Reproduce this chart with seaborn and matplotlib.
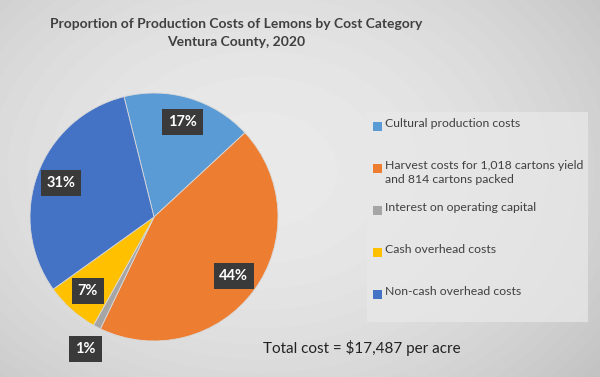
import numpy as np
import matplotlib
matplotlib.use("Agg")
import matplotlib.pyplot as plt
import matplotlib.patches as mpatches
import seaborn as sns

sns.set_theme(style="white")
plt.rcParams['font.family'] = ['Lato', 'DejaVu Sans']

# data
categories = ['Cultural production costs',
              'Harvest costs for 1,018 cartons yield\nand 814 cartons packed',
              'Interest on operating capital',
              'Cash overhead costs',
              'Non-cash overhead costs']
shares = [17, 44, 1, 7, 31]
colors = ['#5B9BD5', '#ED7D31', '#A5A5A5', '#FFC000', '#4472C4']
title = 'Proportion of Production Costs of Lemons by Cost Category\nVentura County, 2020'
total_note = 'Total cost = $17,487 per acre'

W, H = 600, 377
fig = plt.figure(figsize=(6, 3.77), dpi=100)

# gray radial background
bg = fig.add_axes([0, 0, 1, 1], zorder=-10)
yy, xx = np.mgrid[0:H, 0:W]
d2 = ((xx - 260) / 400.0) ** 2 + ((yy - 170) / 300.0) ** 2
shade = np.clip(0.915 - 0.13 * d2, 0, 1)
bg.imshow(shade, cmap='gray', vmin=0, vmax=1, aspect='auto')
bg.axis('off')

# pie
ax = fig.add_axes([-1 / W, 5 / H, 310 / W, 310 / H])
wedges, texts, autotexts = ax.pie(
    shares, colors=colors, startangle=104, counterclock=False,
    autopct='%d%%', pctdistance=0.8,
    wedgeprops=dict(linewidth=0.6, edgecolor='#d9d9d9'),
    textprops=dict(color='white', fontweight='bold', fontsize=10.5))
ax.set_xlim(-1.25, 1.25)
ax.set_ylim(-1.25, 1.25)
ax.set_aspect('equal')
ax.axis('off')
for t in autotexts:
    t.set_bbox(dict(boxstyle='square,pad=0.4', fc='#3a3a3a', ec='none'))
# the small slice label sits outside the pie
x, y = autotexts[2].get_position()
autotexts[2].set_position((x * 1.5, y * 1.5))

# legend panel, Excel style: one 42 px slot per entry
fig.patches.append(mpatches.Rectangle((367 / W, 1 - 322 / H), 221 / W, 210 / H,
                                      transform=fig.transFigure, fc='#e8e8e8',
                                      ec='none', alpha=0.75, zorder=1))
for i, (lab, col) in enumerate(zip(categories, colors)):
    yc = 126 + 42 * i
    fig.patches.append(mpatches.Rectangle((373 / W, 1 - (yc + 4.5) / H), 9 / W, 9 / H,
                                          transform=fig.transFigure, fc=col,
                                          ec='none', zorder=2))
    fig.text(385 / W, 1 - (yc - 8) / H, lab, ha='left', va='top',
             fontsize=8.8, color='#404040', linespacing=1.35, zorder=3)

fig.text(236 / W, 1 - 33 / H, title, ha='center', va='center',
         fontsize=10, fontweight='bold', color='#404040', linespacing=1.5)
fig.text(263 / W, 1 - 348 / H, total_note, ha='left', va='center',
         fontsize=11, color='#222222')

fig.savefig('out.png', dpi=100)
